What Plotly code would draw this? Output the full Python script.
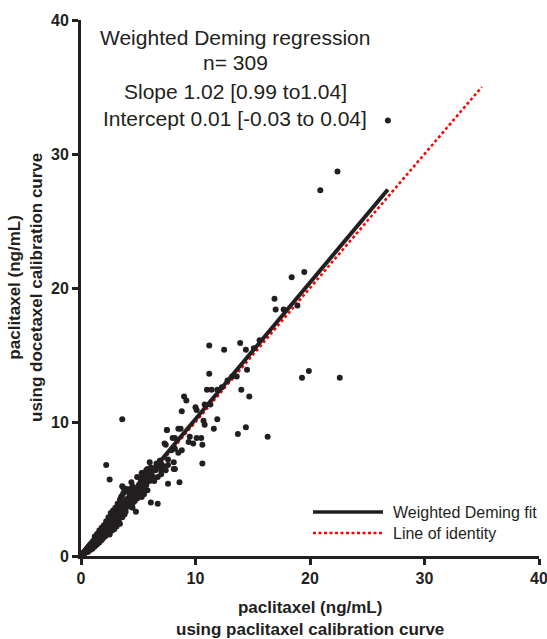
import plotly.graph_objects as go

# Paired measurements (ng/mL): paclitaxel calibration (x) vs docetaxel calibration (y)
low_x = [0.05, 0.1, 0.12, 0.15, 0.18, 0.2, 0.22, 0.25, 0.28, 0.3, 0.33, 0.35, 0.38, 0.4, 0.42,
         0.45, 0.48, 0.5, 0.52, 0.55, 0.58, 0.6, 0.62, 0.65, 0.68, 0.7, 0.72, 0.75, 0.78, 0.8,
         0.82, 0.85, 0.88, 0.9, 0.92, 0.95, 0.98, 1.0, 0.6, 0.8, 1.0, 1.2, 1.4, 1.6, 1.8,
         1.05, 1.1, 1.15, 1.2, 1.25, 1.3, 1.35, 1.4, 1.45, 1.5, 1.55, 1.6, 1.65, 1.7, 1.75,
         1.8, 1.85, 1.9, 1.95, 2.0, 1.3, 1.5, 1.7, 1.9, 2.1, 2.3, 2.5, 2.7, 2.9, 1.2, 1.4,
         1.6, 1.8, 2.0,
         2.05, 2.1, 2.15, 2.2, 2.25, 2.3, 2.35, 2.4, 2.45, 2.5, 2.55, 2.6, 2.65, 2.7, 2.75,
         2.8, 2.85, 2.9, 2.95, 3.0, 2.2, 2.4, 2.6, 2.8, 3.0, 2.5, 2.7, 3.0, 3.1,
         3.05, 3.1, 3.2, 3.25, 3.3, 3.35, 3.4, 3.45, 3.5, 3.55, 3.6, 3.65, 3.7, 3.75, 3.8,
         3.85, 3.9, 3.95, 4.0, 3.2, 3.4, 3.5, 3.6, 3.3, 3.6, 3.8, 3.9, 3.7,
         4.05, 4.1, 4.2, 4.25, 4.3, 4.4, 4.45, 4.5, 4.55, 4.6, 4.7, 4.75, 4.8, 4.9, 5.0,
         4.1, 4.3, 4.5, 4.2, 4.5, 4.7, 4.9, 4.0, 4.3,
         5.05, 5.1, 5.2, 5.3, 5.4, 5.5, 5.6, 5.7, 5.8, 5.9, 6.0, 5.2, 5.4, 5.5, 5.8, 5.3,
         6.1, 6.2, 6.3, 6.5, 6.6, 6.8, 6.9, 7.0, 6.4, 6.7,
         0.3, 0.5, 0.7, 0.9, 1.1, 1.3, 1.5, 1.7, 1.9, 2.1, 2.3, 2.5, 2.7, 2.9, 3.1, 3.3,
         3.5, 3.7, 3.9, 4.1, 4.3, 4.6, 4.8, 5.1, 5.4, 5.7, 6.0]
low_y = [0.06, 0.08, 0.15, 0.1, 0.2, 0.14, 0.25, 0.18, 0.3, 0.22, 0.35, 0.25, 0.4, 0.3, 0.45,
         0.35, 0.5, 0.38, 0.55, 0.42, 0.6, 0.45, 0.65, 0.5, 0.7, 0.52, 0.75, 0.58, 0.8, 0.6,
         0.85, 0.65, 0.9, 0.7, 0.95, 0.75, 1.0, 0.8, 0.3, 0.45, 0.55, 0.7, 0.85, 1.0, 1.2,
         1.1, 0.9, 1.2, 1.0, 1.3, 1.1, 1.4, 1.15, 1.5, 1.25, 1.6, 1.3, 1.7, 1.4, 1.8,
         1.5, 1.9, 1.6, 2.0, 1.7, 0.95, 1.05, 1.15, 1.3, 1.45, 1.6, 1.8, 1.9, 2.0, 1.45, 1.65,
         1.9, 2.1, 2.3,
         2.1, 1.9, 2.3, 2.0, 2.4, 2.1, 2.5, 2.2, 2.6, 2.3, 2.7, 2.4, 2.8, 2.5, 2.9,
         2.6, 3.0, 2.7, 3.1, 2.8, 2.6, 2.9, 3.2, 3.4, 3.6, 1.6, 2.2, 2.4, 2.2,
         3.1, 2.9, 3.3, 3.0, 3.5, 3.2, 3.6, 3.3, 3.7, 3.4, 3.8, 3.5, 3.9, 3.6, 4.0,
         3.7, 4.1, 3.8, 4.2, 3.9, 4.2, 4.4, 4.5, 2.7, 2.9, 3.1, 3.3, 4.7,
         4.0, 4.3, 4.1, 4.5, 4.2, 4.6, 4.3, 4.8, 4.4, 4.9, 4.6, 5.0, 4.7, 5.1, 4.9,
         4.8, 5.0, 5.2, 3.7, 3.9, 4.1, 4.3, 5.0, 4.9,
         5.3, 5.0, 5.5, 5.2, 5.6, 5.4, 5.9, 5.5, 6.0, 5.7, 6.1, 5.8, 6.0, 4.6, 4.9, 4.4,
         6.3, 6.0, 6.5, 6.4, 6.8, 6.7, 7.1, 6.9, 5.6, 5.9,
         0.2, 0.4, 0.55, 0.75, 0.95, 1.15, 1.35, 1.55, 1.75, 1.95, 2.15, 2.3, 2.5, 2.65, 2.85, 3.05,
         3.25, 3.45, 3.6, 3.8, 4.0, 4.25, 4.45, 4.7, 5.0, 5.3, 5.6]

mid_x = [3.6, 2.2, 2.5, 6.1, 6.7, 4.8, 3.4, 4.5, 3.3, 3.7, 5.3, 5.8, 6.1, 3.6,
         6.0, 6.6, 7.0, 7.6, 8.1, 5.4, 5.7, 6.3, 4.9, 4.4, 6.9, 7.2, 7.4, 7.6, 8.1, 8.2,
         7.9, 8.2, 7.4, 8.2, 7.6, 8.6, 7.5, 8.5, 8.7, 7.3, 8.0, 9.5, 10.1, 10.5, 9.4, 9.8,
         10.6, 8.8, 8.5, 10.6, 6.3, 7.0, 6.9]
mid_y = [10.2, 6.8, 5.7, 4.0, 3.9, 3.3, 2.4, 3.6, 2.4, 5.1, 6.2, 6.5, 6.6, 5.2,
         7.0, 6.9, 6.4, 6.8, 6.5, 6.2, 6.4, 5.7, 5.9, 5.5, 7.0, 6.7, 6.4, 7.2, 7.0, 6.5,
         7.9, 8.0, 8.3, 8.8, 5.4, 5.5, 9.4, 9.5, 9.5, 8.4, 8.8, 8.9, 8.8, 8.8, 8.5, 8.4,
         8.3, 7.9, 7.7, 6.9, 5.7, 6.1, 7.1]

high_x = [26.8, 22.4, 20.9, 18.4, 19.5, 16.9, 17.0, 17.7, 18.9, 11.2, 12.5, 13.9, 14.4,
          11.2, 14.5, 13.6, 19.3, 19.9, 22.6, 11.0, 11.4, 11.9, 14.0, 14.7, 9.0, 9.2,
          8.8, 10.0, 10.1, 10.8, 11.3, 10.7, 10.8, 11.9, 11.6, 13.7, 14.4, 16.3, 7.5,
          15.6, 15.1, 13.2, 12.3, 12.8]
high_y = [32.5, 28.7, 27.3, 20.8, 21.2, 19.2, 18.4, 18.4, 18.7, 15.7, 15.4, 15.9, 15.4,
          13.6, 13.9, 13.4, 13.3, 13.8, 13.3, 12.4, 12.4, 12.4, 12.4, 11.9, 11.9, 11.6,
          10.8, 11.1, 10.9, 11.3, 11.3, 10.1, 9.8, 10.2, 9.5, 9.1, 9.6, 8.9, 9.4,
          16.1, 15.5, 13.4, 12.6, 13.1]

# Weighted Deming fit and identity line
slope, intercept = 1.02, 0.01
fit_x = [0.0, 26.8]
fit_y = [slope * v + intercept for v in fit_x]
ident_x = [0.0, 35.0]
ident_y = [0.0, 35.0]

ticks = [0, 10, 20, 30, 40]
ink = "#231f20"
font_family = "Liberation Sans, Arial, sans-serif"

fig = go.Figure()
fig.add_trace(go.Scatter(x=ident_x, y=ident_y, mode="lines",
                         line=dict(color="#ff0000", width=2.5, dash="3px,2.5px"),
                         showlegend=False, hoverinfo="skip"))
fig.add_trace(go.Scatter(x=low_x + mid_x + high_x, y=low_y + mid_y + high_y, mode="markers",
                         marker=dict(color=ink, size=6, line=dict(width=0)),
                         showlegend=False, cliponaxis=False))
fig.add_trace(go.Scatter(x=fit_x, y=fit_y, mode="lines",
                         line=dict(color=ink, width=4),
                         showlegend=False, hoverinfo="skip"))

axis_common = dict(range=[0, 40], tickvals=ticks, ticks="outside", ticklen=6, tickwidth=3,
                   tickcolor=ink, showline=True, linewidth=3, linecolor=ink,
                   showgrid=False, zeroline=False, ticklabeloverflow="allow",
                   automargin=False,
                   tickfont=dict(family=font_family, size=16, color=ink, weight="bold"))
fig.update_layout(
    width=547, height=639,
    margin=dict(l=81, r=8, t=20, b=83, autoexpand=False),
    paper_bgcolor="white", plot_bgcolor="white",
    xaxis=dict(**axis_common),
    yaxis=dict(**axis_common),
    font=dict(family=font_family, color=ink),
)

# Regression summary
summary = ["Weighted Deming regression", "n= 309",
           "Slope 1.02 [0.99 to1.04]", "Intercept 0.01 [-0.03 to 0.04]"]
summary_y = [37, 63, 91, 118]
for text, py in zip(summary, summary_y):
    fig.add_annotation(text=text, xref="paper", yref="paper",
                       x=(235 - 81) / 458, y=(556 - py) / 536,
                       xanchor="center", yanchor="middle", showarrow=False,
                       font=dict(family=font_family, size=21, color=ink))

# Axis titles
fig.add_annotation(text="paclitaxel (ng/mL)<br>using paclitaxel calibration curve",
                   xref="paper", yref="paper", x=0.5, y=(556 - 618) / 536,
                   xanchor="center", yanchor="middle", showarrow=False,
                   font=dict(family=font_family, size=17, color=ink, weight="bold"))
fig.add_annotation(text="paclitaxel (ng/mL)<br>using docetaxel calibration curve",
                   xref="paper", yref="paper", x=(25 - 81) / 458, y=0.5, textangle=-90,
                   xanchor="center", yanchor="middle", showarrow=False,
                   font=dict(family=font_family, size=17, color=ink, weight="bold"))

# Legend
legend_items = [("Weighted Deming fit", ink, "solid", 3.5, 512),
                ("Line of identity", "#ff0000", "3px,2.5px", 2.5, 533)]
for label, color, dash, width, py in legend_items:
    yp = (556 - py) / 536
    fig.add_shape(type="line", xref="paper", yref="paper",
                  x0=(313 - 81) / 458, x1=(383 - 81) / 458, y0=yp, y1=yp,
                  line=dict(color=color, width=width, dash=dash))
    fig.add_annotation(text=label, xref="paper", yref="paper",
                       x=(391 - 81) / 458, y=yp, xanchor="left", yanchor="middle",
                       showarrow=False,
                       font=dict(family=font_family, size=16, color=ink))

fig.write_html("out.html")
